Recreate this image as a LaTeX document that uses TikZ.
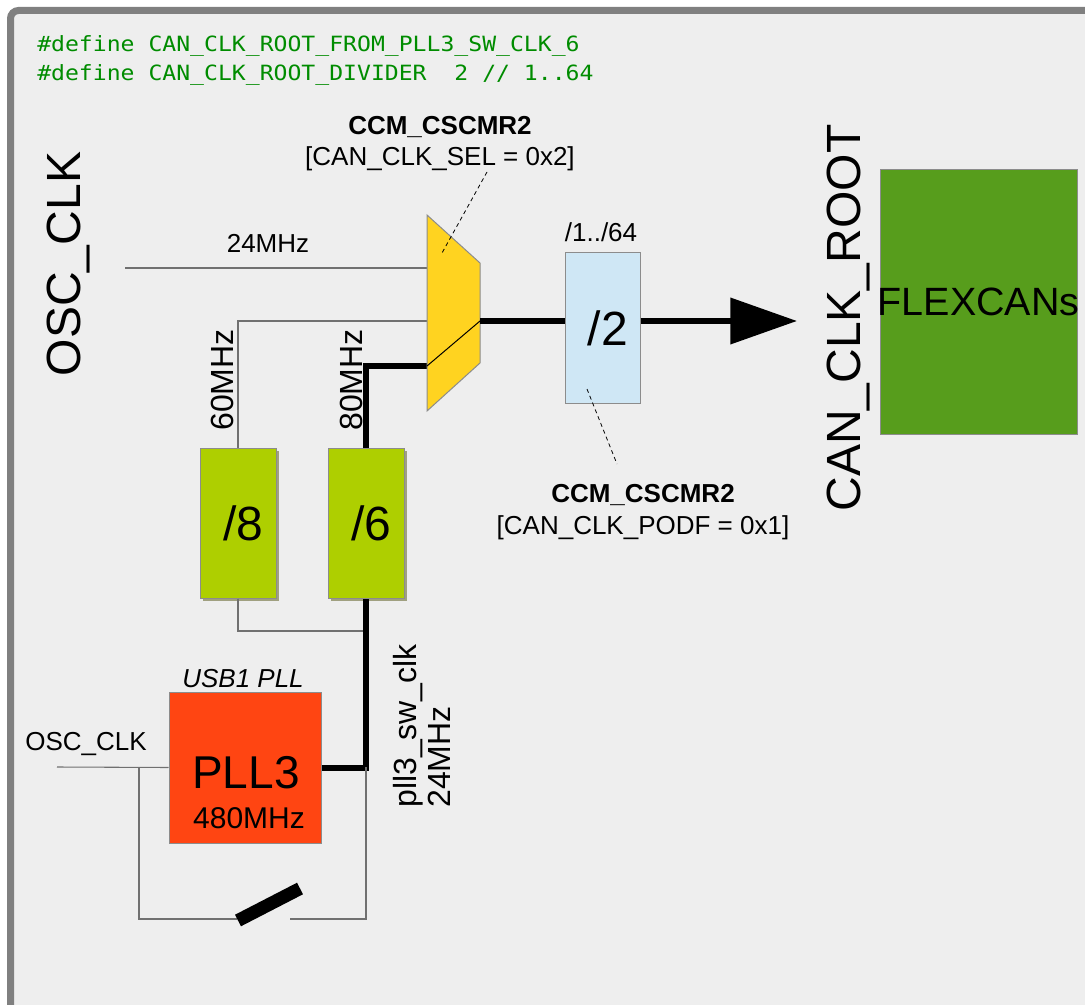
\documentclass[tikz,border=0pt]{standalone}
\usepackage{fontspec}
\setmainfont{Liberation Sans}
\newfontfamily\codefont[FakeStretch=1.1]{DejaVu Sans Mono}
\usetikzlibrary{arrows.meta,shadows}
\definecolor{bgc}{HTML}{EEEEEE}
\definecolor{framegray}{HTML}{808080}
\definecolor{wiregray}{HTML}{707070}
\definecolor{boxgray}{HTML}{8C8C8C}
\definecolor{muxyellow}{HTML}{FFD320}
\definecolor{divblue}{HTML}{CFE7F5}
\definecolor{divgreen}{HTML}{AECF00}
\definecolor{flexgreen}{HTML}{579D1C}
\definecolor{pllred}{HTML}{FF4512}
\definecolor{codegreen}{HTML}{008C00}
\definecolor{shadowc}{HTML}{A0A080}
\begin{document}
\begin{tikzpicture}[x=0.75pt,y=-0.75pt,
  lbl/.style={font=\fontsize{19.5}{23}\selectfont, inner sep=0pt},
  midlbl/.style={font=\fontsize{24}{28}\selectfont, inner sep=0pt},
  biglbl/.style={font=\fontsize{36}{40}\selectfont, inner sep=0pt},
  wire/.style={draw=wiregray, line width=0.8pt},
  bus/.style={draw=black, line width=4.5pt},
  dashline/.style={draw=black, line width=0.6pt, dash pattern=on 3pt off 2.5pt},
  boxnode/.style={draw=boxgray, line width=0.75pt, inner sep=0pt},
  divnode/.style={boxnode, fill=divgreen, minimum width=57pt, minimum height=112.5pt,
    font=\fontsize{36}{40}\selectfont,
    general shadow={fill=shadowc, shadow xshift=2pt, shadow yshift=-2pt}},
  codetxt/.style={font=\codefont\fontsize{15.75}{18}\selectfont, text=codegreen, inner sep=0pt, anchor=base west}
]
\useasboundingbox (0,0) rectangle (1085,1005);
\clip (0,0) rectangle (1085,1005);
\fill[white] (0,0) rectangle (1085,1005);
\draw[line width=5.25pt, draw=framegray, fill=bgc, rounded corners=6pt] (10.5,10.5) rectangle (1200,1120);

% code
\node[codetxt] (code1) at (37,52) {\#define CAN\_CLK\_ROOT\_FROM\_PLL3\_SW\_CLK\_6};
\node[codetxt] (code2) at (37,81) {\#define CAN\_CLK\_ROOT\_DIVIDER\ \ 2 // 1..64};

% big labels
\node[biglbl, rotate=90, anchor=base] (osc) at (80,264) {OSC\_CLK};
\node[biglbl, rotate=90, anchor=base] (canroot) at (860,318) {CAN\_CLK\_ROOT};

% coordinates
\coordinate (osc24) at (125,268);
\coordinate (muxin1) at (427,268);
\coordinate (muxin2) at (427,321);
\coordinate (muxin3) at (427,366);
\coordinate (muxout) at (480,321);
\coordinate (muxsel) at (442,253);
\coordinate (sel1) at (487,172);
\coordinate (tip) at (797,321);
\coordinate (jn) at (366,631);
\coordinate (oscin) at (57,767);
\coordinate (bypL) at (139,767);
\coordinate (bypR) at (366,767);
\coordinate (swL) at (237,919);
\coordinate (swR) at (290,919);
\coordinate (podfin) at (587,389);
\coordinate (podf) at (617,464);

% boxes
\node[divnode] (div8) at (238,523) {\hspace*{8pt}/8};
\node[divnode] (div6) at (366,523) {\hspace*{8pt}/6};
\node[boxnode, fill=divblue, minimum width=56.25pt, minimum height=113.25pt,
  font=\fontsize{36}{40}\selectfont] (div2) at (602.5,328.5) {\hspace*{8pt}/2};
\node[boxnode, fill=flexgreen, minimum width=147.75pt, minimum height=198pt] (flex) at (978.5,302) {};
\node[font=\fontsize{29.6}{33}\selectfont, inner sep=0pt] (flext) at (978.5,302) {FLEXCANs};
\node[boxnode, fill=pllred, minimum width=114pt, minimum height=113.25pt] (pll3) at (245,767.5) {};
\node[font=\fontsize{34.5}{38}\selectfont, inner sep=0pt, anchor=base] (pllt) at (246,788) {PLL3};
\node[font=\fontsize{22.5}{26}\selectfont, inner sep=0pt, anchor=base] (pllf) at (249,828) {480MHz};

% wires
\draw[wire] (osc24) -- (muxin1);
\draw[wire] (div8.north) |- (muxin2);
\draw[bus] (div6.north) |- (muxin3);
\draw[wire] (div8.south) |- (jn);
\draw[bus] (pll3.east) -| (div6.south);
\draw[wire] (oscin) -- (pll3.west);
\draw[wire] (bypL) |- (swL);
\draw[wire] (swR) -| (bypR);
\draw[line width=9.75pt] (238,920.5) -- (300,888.5);

% mux
\filldraw[fill=muxyellow, draw=boxgray, line width=0.75pt] (427,215) -- (480,263) -- (480,363) -- (427,411) -- cycle;
\draw[black, line width=0.75pt] (muxin3) -- (muxout);
\draw[bus] (muxout) -- (muxout -| div2.west);
\draw[bus, -{Triangle[length=50pt, width=34pt]}] (div2.east |- tip) -- (tip);

% dashed pointers
\draw[dashline] (sel1) -- (muxsel);
\draw[dashline] (podfin) -- (podf);

% labels
\node[lbl, anchor=base] (l24) at (268,253) {24MHz};
\node[midlbl, rotate=90, anchor=base] (l60) at (233,380) {60MHz};
\node[midlbl, rotate=90, anchor=base] (l80) at (362,380) {80MHz};
\node[lbl, anchor=base] (rng) at (601,242) {/1../64};
\node[lbl, anchor=base] (ccm1a) at (440,135) {\textbf{CCM\_CSCMR2}};
\node[lbl, anchor=base] (ccm1b) at (440,166) {[CAN\_CLK\_SEL = 0x2]};
\node[lbl, anchor=base] (ccm2a) at (643,502) {\textbf{CCM\_CSCMR2}};
\node[lbl, anchor=base] (ccm2b) at (643,534) {[CAN\_CLK\_PODF = 0x1]};
\node[lbl, anchor=base] (usb) at (243,687) {\itshape USB1 PLL};
\node[lbl, anchor=base] (osc2) at (86,750) {OSC\_CLK};
\node[midlbl, rotate=90, anchor=base west] (swclk) at (416,808) {pll3\_sw\_clk};
\node[midlbl, rotate=90, anchor=base west] (sw24) at (450,808) {24MHz};
\end{tikzpicture}
\end{document}
